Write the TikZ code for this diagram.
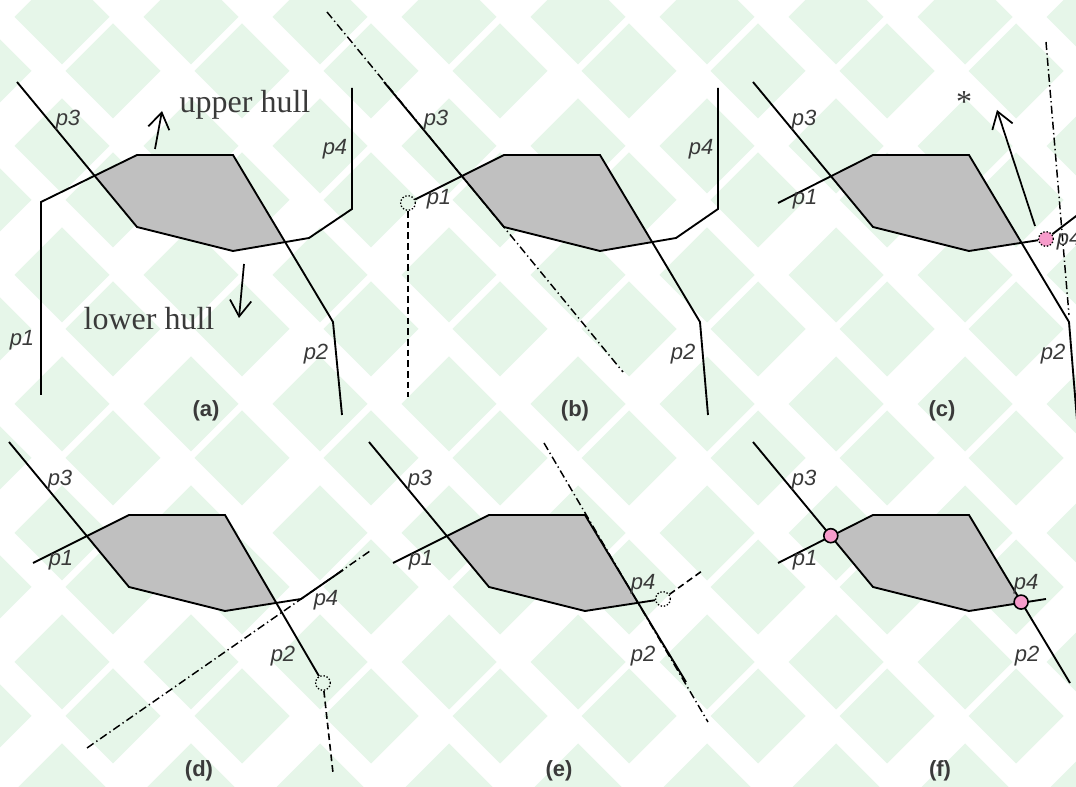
\documentclass[tikz,border=0pt]{standalone}
\usepackage{fontspec}
\setmainfont{Liberation Serif}
\newfontfamily\labfont{Liberation Sans}
\usetikzlibrary{arrows.meta}
\definecolor{bgd}{HTML}{E6F6E9}
\definecolor{hullgray}{HTML}{C0C0C0}
\definecolor{pinkpt}{HTML}{F79CCB}
\definecolor{txt}{HTML}{3A3A3A}
\tikzset{
  ln/.style={line width=1.4pt, line join=miter},
  dashdot/.style={line width=1.1pt, dash pattern=on 6pt off 2.5pt on 1pt off 2.5pt},
  dashln/.style={line width=1.2pt, dash pattern=on 5pt off 3pt},
  lbl/.style={font=\labfont\itshape\fontsize{16.5}{18}\selectfont, text=txt, inner sep=0pt},
  capt/.style={font=\labfont\bfseries\fontsize{16.5}{18}\selectfont, text=txt, inner sep=0pt},
  hulltxt/.style={font=\fontsize{24}{26}\selectfont, text=txt, inner sep=0pt, anchor=base},
  arr/.style={line width=1.3pt, -{Straight Barb[length=12pt,width=16pt,line width=1.3pt]}},
  hole/.style={circle, draw, line width=1pt, dash pattern=on 1pt off 1.4pt, minimum size=11pt, inner sep=0pt},
  pinkdot/.style={circle, draw, fill=pinkpt, line width=1pt, dash pattern=on 1pt off 1.4pt, minimum size=11pt, inner sep=0pt},
  pinkpt/.style={circle, draw, fill=pinkpt, line width=1.2pt, minimum size=10.5pt, inner sep=0pt}
}
\newcommand\hullfill{\fill[hullgray] (-42.2,20.7) -- (0,0) -- (96,0) -- (148.1,87.1) -- (96,96) -- (0,72) -- cycle;}
\begin{document}
\begin{tikzpicture}[x=0.75pt,y=-0.75pt]
\useasboundingbox (0,0) rectangle (1076,787);
\clip (0,0) rectangle (1076,787);
\fill[white] (0,0) rectangle (1076,787);
% background diamonds
\foreach \i in {-1,...,8}{\foreach \j in {-1,...,6}{
  \fill[bgd] ({62+129*\i-47.5},{17+129*\j}) -- ++(47.5,-47.5) -- ++(47.5,47.5) -- ++(-47.5,47.5) -- cycle;
  \fill[bgd] ({113+129*\i-47.5},{71+129*\j}) -- ++(47.5,-47.5) -- ++(47.5,47.5) -- ++(-47.5,47.5) -- cycle;
}}

% ---------- (a)
\begin{scope}[shift={(137,155)}]
  \hullfill
  \draw[ln] (-96,240) -- (-96,47) -- (0,0) -- (96,0) -- (196,167) -- (205,260);
  \draw[ln] (-120,-73) -- (0,72) -- (96,96) -- (172,83) -- (215,54) -- (215,-67);
  \coordinate (ua0) at (18,-6); \coordinate (ua1) at (25,-44);
  \coordinate (la0) at (107,109); \coordinate (la1) at (102,163);
  \draw[arr] (ua0) -- (ua1);
  \draw[arr] (la0) -- (la1);
\end{scope}
\node[hulltxt] (uh) at (245,113) {upper hull};
\node[hulltxt] (lh) at (149,330) {lower hull};
\node[lbl] (a3) at (68,120) {p3};
\node[lbl] (a4) at (335,149) {p4};
\node[lbl] (a1) at (22,340) {p1};
\node[lbl] (a2) at (316,354) {p2};
\node[capt] (ca) at (206,411) {(a)};

% ---------- (b)
\begin{scope}[shift={(504,155)}]
  \hullfill
  \draw[dashdot] (-177,-143) -- (119,217);
  \node[hole] (b1) at (-96,48) {};
  \draw[ln] (b1) -- (0,0) -- (96,0) -- (196,167) -- (204,260);
  \coordinate (bd) at (-96,242);
  \draw[dashln] (b1) -- (bd);
  \draw[ln] (-120,-73) -- (0,72) -- (96,96) -- (172,83) -- (214,54) -- (214,-67);
\end{scope}
\node[lbl] (b3) at (436,120) {p3};
\node[lbl] (b1l) at (439,199) {p1};
\node[lbl] (b4) at (701,149) {p4};
\node[lbl] (b2) at (683,354) {p2};
\node[capt] (cb) at (575,411) {(b)};

% ---------- (c)
\begin{scope}[shift={(873,155)}]
  \hullfill
  \draw[dashdot] (173,-113) -- (196,160);
  \draw[ln] (-95,48) -- (0,0) -- (96,0) -- (196,167) -- (204,265);
  \node[pinkdot] (c4) at (173,84) {};
  \draw[ln] (-120,-73) -- (0,72) -- (96,96) -- (c4);
  \coordinate (ce) at (215,52);
  \draw[ln] (c4) -- (ce);
  \coordinate (ca0) at (162,71); \coordinate (ca1) at (124,-45);
  \draw[arr] (ca0) -- (ca1);
\end{scope}
\node[font=\fontsize{24}{26}\selectfont, text=txt, inner sep=0pt] (star) at (964,102) {*};
\node[lbl] (c3) at (804,120) {p3};
\node[lbl] (c1) at (805,199) {p1};
\node[lbl] (c4l) at (1069,240) {p4};
\node[lbl] (c2) at (1053,354) {p2};
\node[capt] (cc) at (942,411) {(c)};

% ---------- (d)
\begin{scope}[shift={(129,515)}]
  \hullfill
  \draw[dashdot] (-42,233) -- (241,36);
  \node[hole] (d2) at (194,168) {};
  \draw[ln] (-96,48) -- (0,0) -- (96,0) -- (d2);
  \coordinate (dd) at (204,258);
  \draw[dashln] (d2) -- (dd);
  \draw[ln] (-120,-73) -- (0,72) -- (96,96) -- (172,84) -- (214,55);
\end{scope}
\node[lbl] (d3) at (60,480) {p3};
\node[lbl] (d1) at (61,560) {p1};
\node[lbl] (d4) at (326,600) {p4};
\node[lbl] (d2l) at (283,656) {p2};
\node[capt] (cd) at (199,771) {(d)};

% ---------- (e)
\begin{scope}[shift={(489,515)}]
  \hullfill
  \draw[dashdot] (55,-72) -- (219,207);
  \draw[ln] (-96,48) -- (0,0) -- (96,0) -- (197,167);
  \node[hole] (e4) at (174,84) {};
  \draw[ln] (-120,-73) -- (0,72) -- (96,96) -- (e4);
  \coordinate (ed) at (213,56);
  \draw[dashln] (e4) -- (ed);
\end{scope}
\node[lbl] (e3) at (420,480) {p3};
\node[lbl] (e1) at (421,560) {p1};
\node[lbl] (e4l) at (643,584) {p4};
\node[lbl] (e2) at (643,656) {p2};
\node[capt] (ce2) at (559,771) {(e)};

% ---------- (f)
\begin{scope}[shift={(873,515)}]
  \hullfill
  \draw[ln] (-95,48) -- (0,0) -- (96,0) -- (197,168);
  \draw[ln] (-120,-73) -- (0,72) -- (96,96) -- (173,84);
  \node[pinkpt] (f1) at (-42.2,20.7) {};
  \node[pinkpt] (f4) at (148.1,87.1) {};
\end{scope}
\node[lbl] (f3) at (804,480) {p3};
\node[lbl] (f1l) at (805,560) {p1};
\node[lbl] (f4l) at (1026,584) {p4};
\node[lbl] (f2) at (1027,656) {p2};
\node[capt] (cf) at (940,771) {(f)};
\end{tikzpicture}
\end{document}
